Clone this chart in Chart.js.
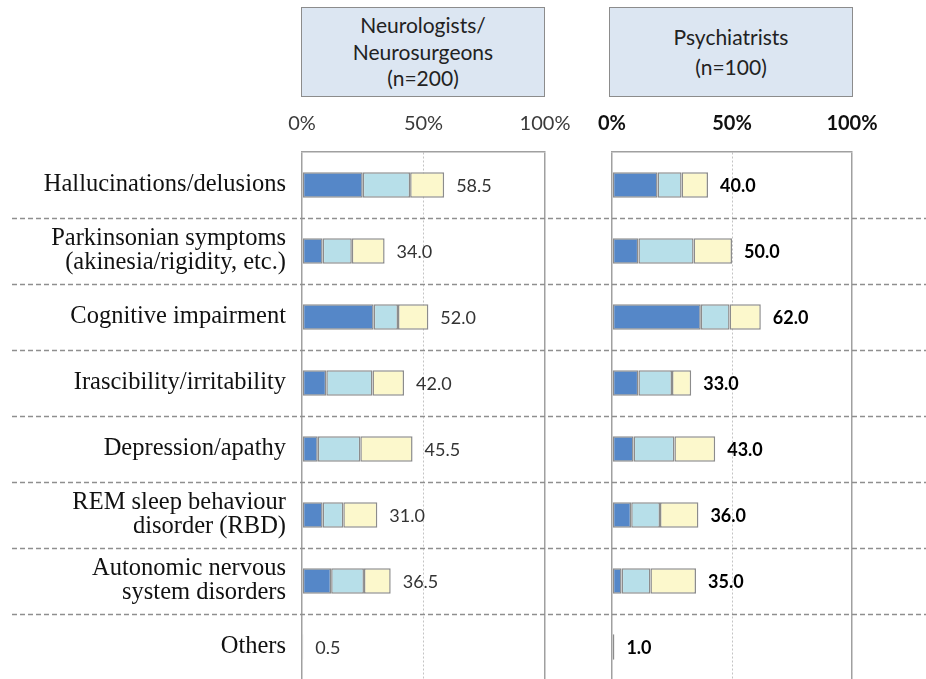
<!DOCTYPE html>
<html>
<head>
<meta charset="utf-8">
<script src="https://cdn.jsdelivr.net/npm/chart.js@4.4.0/dist/chart.umd.min.js"></script>
<style>
html, body { margin:0; padding:0; background:#fff; overflow:hidden; width:926px; height:679px; }
.box { position:absolute; top:7px; height:90px; width:244px; box-sizing:border-box; border:1.5px solid #8c8c8c; background:#dce6f2;
       font-family:Lato, sans-serif; font-size:21px; color:#222; display:flex; flex-direction:column; justify-content:center; align-items:center; text-align:center; }
#wl { position:absolute; left:0; top:0; width:640px; height:680px; }
#wr { position:absolute; left:580px; top:0; width:346px; height:680px; }
</style>
</head>
<body>
<div class="box" id="hl" style="left:301px;line-height:26.5px;"></div>
<div class="box" id="hr" style="left:609px;line-height:30px;"></div>
<div id="wl"><canvas id="cl" width="640" height="680"></canvas></div>
<div id="wr"><canvas id="cr" width="346" height="680"></canvas></div>
<script>
// data
var categories = [
    ['Hallucinations/delusions'],
    ['Parkinsonian symptoms', '(akinesia/rigidity, etc.)'],
    ['Cognitive impairment'],
    ['Irascibility/irritability'],
    ['Depression/apathy'],
    ['REM sleep behaviour', 'disorder (RBD)'],
    ['Autonomic nervous', 'system disorders'],
    ['Others']
];
var panelTitles = [['Neurologists/', 'Neurosurgeons', '(n=200)'], ['Psychiatrists', '(n=100)']];
var neuroDark   = [25, 8.5, 29.5, 10, 6.5, 8.5, 12, 0.5];
var neuroLight  = [19.5, 12, 10, 19, 17.5, 8.5, 13.5, 0];
var neuroYellow = [14, 13.5, 12.5, 13, 21.5, 14, 11, 0];
var psychDark   = [19, 11, 37, 11, 9, 8, 4, 1];
var psychLight  = [10, 23, 12, 14, 17, 12, 12, 0];
var psychYellow = [11, 16, 13, 8, 17, 16, 19, 0];
var tickValues = [0, 50, 100];
var tickLabels = ['0%', '50%', '100%'];

var colors = ['#5587c8', '#b7dfe9', '#fcf8cc'];

document.getElementById('hl').innerHTML = panelTitles[0].join('<br>');
document.getElementById('hr').innerHTML = panelTitles[1].join('<br>');

var rowPlugin = {
    id: 'rows',
    afterDatasetsDraw: function(chart, args, opts) {
        var ctx = chart.ctx, y = chart.scales.y, x = chart.scales.x;
        ctx.save();
        // dashed separators between categories
        ctx.strokeStyle = '#8f8f8f';
        ctx.lineWidth = 1.5;
        ctx.setLineDash([5, 3]);
        for (var i = 0; i < categories.length - 1; i++) {
            var py = Math.round((y.getPixelForValue(i) + y.getPixelForValue(i + 1)) / 2) + 0.5;
            ctx.beginPath();
            ctx.moveTo(opts.x0, py);
            ctx.lineTo(opts.x1 || chart.width, py);
            ctx.stroke();
        }
        ctx.setLineDash([]);
        // totals
        ctx.font = opts.font;
        ctx.fillStyle = opts.color;
        ctx.textBaseline = 'middle';
        ctx.textAlign = 'left';
        for (var j = 0; j < categories.length; j++) {
            var tot = 0;
            chart.data.datasets.forEach(function(ds) { tot += ds.data[j]; });
            ctx.fillText(tot.toFixed(1), x.getPixelForValue(tot) + 12, y.getPixelForValue(j) + 1);
        }
        ctx.restore();
    }
};

function makeChart(id, series, left) {
    var datasets = series.map(function(d, k) {
        return {
            data: d,
            backgroundColor: colors[k],
            borderColor: '#8c8c8c',
            borderWidth: 1.5,
            borderSkipped: false,
            categoryPercentage: 1,
            barPercentage: 0.39
        };
    });
    return new Chart(document.getElementById(id), {
        type: 'bar',
        data: { labels: categories, datasets: datasets },
        options: {
            indexAxis: 'y',
            responsive: false,
            animation: false,
            layout: { autoPadding: false, padding: { left: left ? 0 : 32, right: left ? 95 : 74, top: 0, bottom: 0 } },
            plugins: {
                legend: { display: false },
                tooltip: { enabled: false },
                rows: {
                    x0: left ? 12 : 0,
                    x1: left ? 580 : 0,
                    font: (left ? 'normal' : 'bold') + ' 18px Lato, sans-serif',
                    color: left ? '#333' : '#000'
                }
            },
            scales: {
                x: {
                    position: 'top',
                    stacked: true,
                    min: 0, max: 100,
                    afterBuildTicks: function(s) { s.ticks = tickValues.map(function(v) { return { value: v }; }); },
                    afterFit: function(s) { s.height = 152; s.paddingLeft = 0; s.paddingRight = 0; },
                    ticks: {
                        padding: 16,
                        maxRotation: 0,
                        color: left ? '#3a3a3a' : '#111',
                        font: { family: 'Lato, sans-serif', size: 20, weight: left ? 'normal' : 'bold' },
                        callback: function(v) { return tickLabels[tickValues.indexOf(v)]; }
                    },
                    grid: {
                        drawTicks: false,
                        lineWidth: function(c) { return c.tick && c.tick.value === 50 ? 1 : 1.5; },
                        color: function(c) { return c.tick && c.tick.value === 50 ? '#c4c4c4' : '#a0a0a0'; }
                    },
                    border: {
                        display: true, color: '#a0a0a0', width: 1.5,
                        dash: function(c) { return c.tick && c.tick.value === 50 ? [2, 2] : []; }
                    }
                },
                y: {
                    stacked: true,
                    display: left,
                    afterFit: function(s) {
                        if (left) s.width = 302;
                        s.paddingTop = 0; s.paddingBottom = 0;
                    },
                    grid: { display: false, drawTicks: false },
                    border: { display: false },
                    ticks: {
                        padding: 16,
                        color: '#111',
                        font: { family: '"Liberation Serif", serif', size: 24.5, lineHeight: 0.98 }
                    }
                }
            }
        },
        plugins: [rowPlugin]
    });
}

makeChart('cl', [neuroDark, neuroLight, neuroYellow], true);
makeChart('cr', [psychDark, psychLight, psychYellow], false);
</script>
</body>
</html>
